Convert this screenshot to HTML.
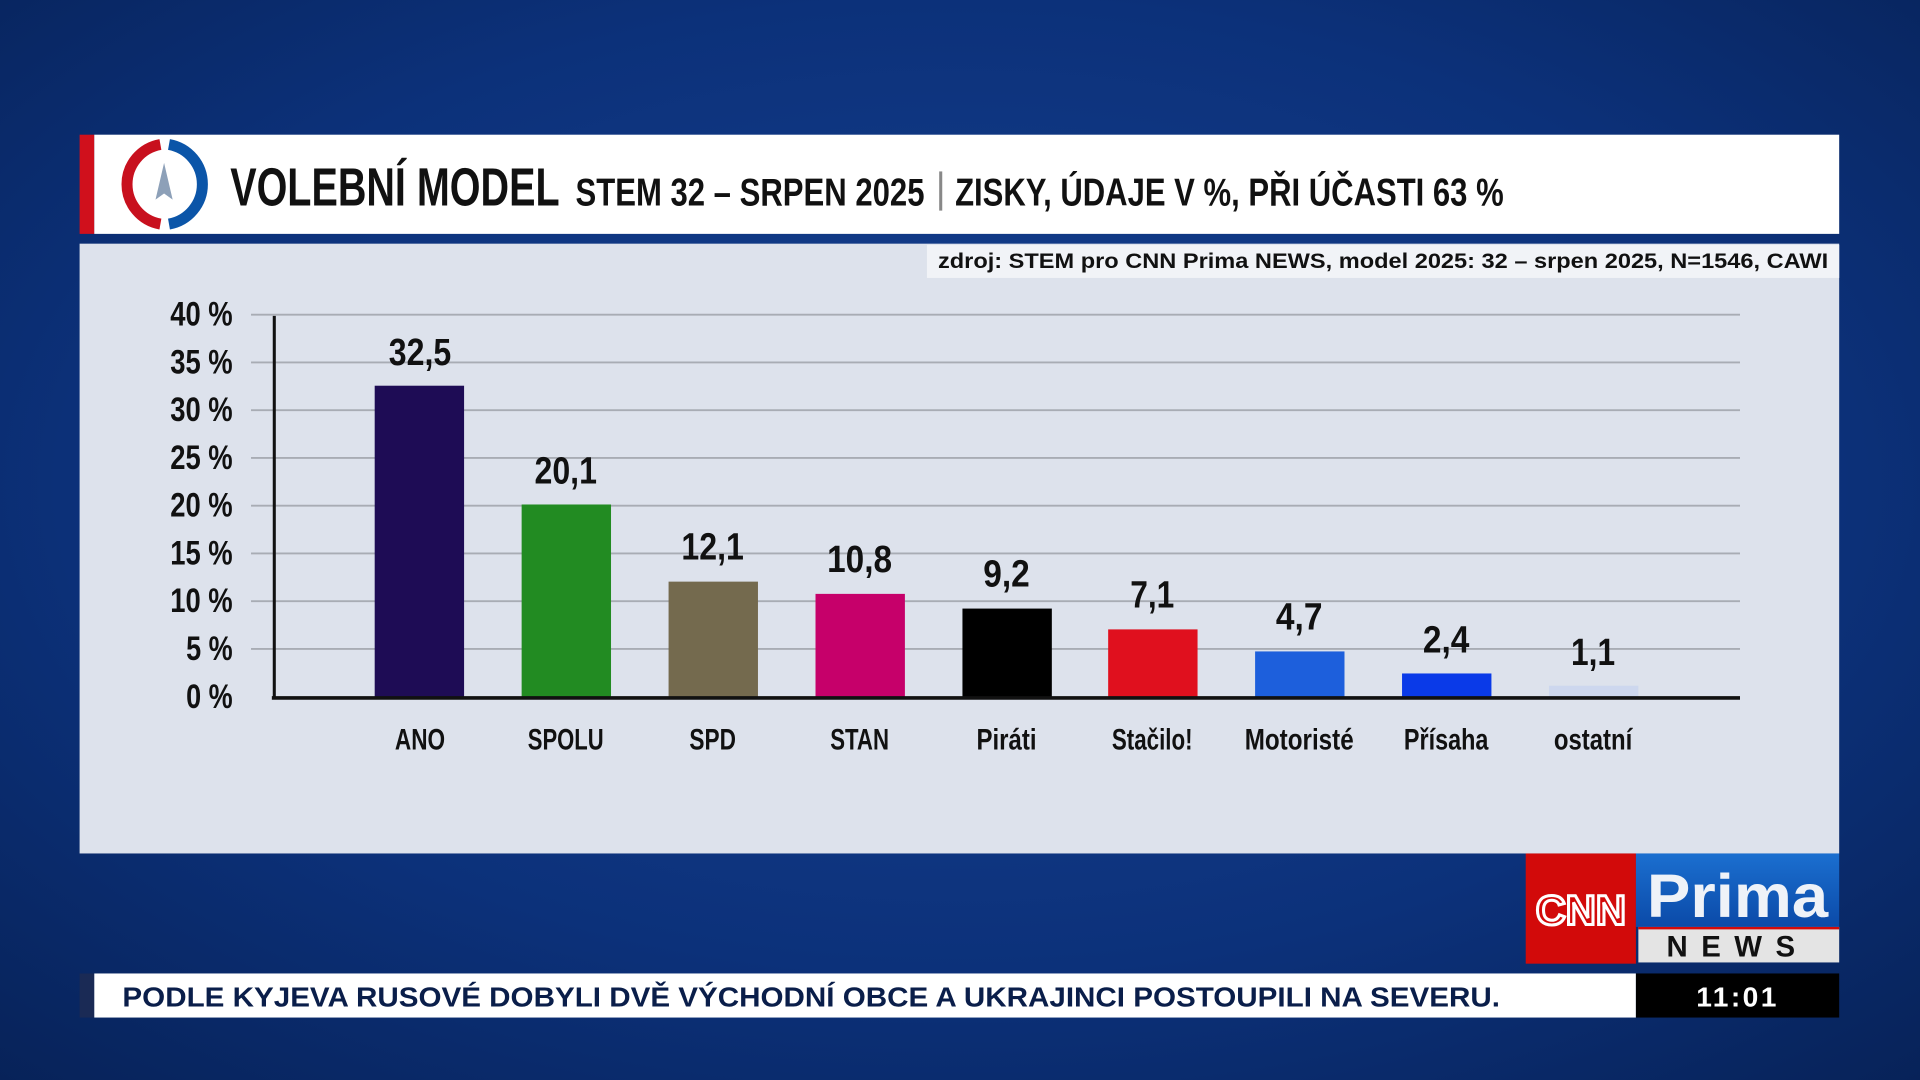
<!DOCTYPE html>
<html><head><meta charset="utf-8"><style>
html,body{margin:0;padding:0;width:1920px;height:1080px;overflow:hidden;background:#0b2c70}
svg{display:block}
text{font-family:"Liberation Sans Narrow","Liberation Sans",sans-serif;font-weight:bold}
</style></head><body>
<svg width="1920" height="1080" viewBox="0 0 1568 882" xmlns="http://www.w3.org/2000/svg">
<defs>
<radialGradient id="bg" cx="50%" cy="45%" r="75%">
<stop offset="0" stop-color="#164292"/><stop offset="0.6" stop-color="#0c317a"/><stop offset="1" stop-color="#072258"/>
</radialGradient>
<linearGradient id="pr" x1="0" y1="0" x2="0" y2="1"><stop offset="0" stop-color="#1b6fd0"/><stop offset="1" stop-color="#0b4aa8"/></linearGradient>
</defs>
<rect width="1568" height="882" fill="url(#bg)"/>
<!-- header -->
<rect x="65" y="110" width="12" height="81" fill="#d0101c"/>
<rect x="77" y="110" width="1425" height="81" fill="#ffffff"/>
<path d="M131 118 A33 33 0 0 0 131 183" fill="none" stroke="#c8101e" stroke-width="9"/>
<path d="M138 118 A33 33 0 0 1 138 183" fill="none" stroke="#0b55a8" stroke-width="9"/>
<path d="M134 133 L141 163 L134 158 L127 163 Z" fill="#8da0b8"/>
<text x="188" y="168" font-size="44" textLength="269" lengthAdjust="spacingAndGlyphs" fill="#111">VOLEBNÍ MODEL</text>
<text x="470" y="168" font-size="32" textLength="285" lengthAdjust="spacingAndGlyphs" fill="#111">STEM 32 – SRPEN 2025</text>
<rect x="767" y="140" width="2.5" height="32" fill="#888"/>
<text x="780" y="168" font-size="32" textLength="448" lengthAdjust="spacingAndGlyphs" fill="#111">ZISKY, ÚDAJE V %, PŘI ÚČASTI 63 %</text>
<!-- panel -->
<rect x="65" y="199" width="1437" height="498" fill="#dde2ec"/>
<rect x="757" y="200" width="745" height="27" fill="#f1f3f7"/>
<text x="1493" y="219" font-size="17" text-anchor="end" fill="#111" font-family="Liberation Sans" textLength="727" lengthAdjust="spacingAndGlyphs">zdroj: STEM pro CNN Prima NEWS, model 2025: 32 – srpen 2025, N=1546, CAWI</text>
<!-- grid -->
<g stroke="#a8acb4" stroke-width="1.5">
<line x1="205" y1="257" x2="1421" y2="257"/><line x1="205" y1="296" x2="1421" y2="296"/>
<line x1="205" y1="335" x2="1421" y2="335"/><line x1="205" y1="374" x2="1421" y2="374"/>
<line x1="205" y1="413" x2="1421" y2="413"/><line x1="205" y1="452" x2="1421" y2="452"/>
<line x1="205" y1="491" x2="1421" y2="491"/><line x1="205" y1="530" x2="1421" y2="530"/>
</g>
<g font-size="28" fill="#111" text-anchor="end" lengthAdjust="spacingAndGlyphs">
<text x="190" y="266" textLength="51" lengthAdjust="spacingAndGlyphs">40 %</text><text x="190" y="305" textLength="51" lengthAdjust="spacingAndGlyphs">35 %</text><text x="190" y="344" textLength="51" lengthAdjust="spacingAndGlyphs">30 %</text>
<text x="190" y="383" textLength="51" lengthAdjust="spacingAndGlyphs">25 %</text><text x="190" y="422" textLength="51" lengthAdjust="spacingAndGlyphs">20 %</text><text x="190" y="461" textLength="51" lengthAdjust="spacingAndGlyphs">15 %</text>
<text x="190" y="500" textLength="51" lengthAdjust="spacingAndGlyphs">10 %</text><text x="190" y="539" textLength="38" lengthAdjust="spacingAndGlyphs">5 %</text><text x="190" y="578" textLength="38" lengthAdjust="spacingAndGlyphs">0 %</text>
</g>
<!-- bars -->
<g>
<rect x="306" y="315" width="73" height="254" fill="#1e0c55"/>
<rect x="426" y="412" width="73" height="157" fill="#228b22"/>
<rect x="546" y="475" width="73" height="94" fill="#746a4e"/>
<rect x="666" y="485" width="73" height="84" fill="#c6006a"/>
<rect x="786" y="497" width="73" height="72" fill="#000"/>
<rect x="905" y="514" width="73" height="55" fill="#e0101e"/>
<rect x="1025" y="532" width="73" height="37" fill="#1d5fdc"/>
<rect x="1145" y="550" width="73" height="19" fill="#0a3ae8"/>
<rect x="1265" y="560" width="73" height="9" fill="#cdd7ee"/>
</g>
<line x1="224" y1="258" x2="224" y2="571" stroke="#111" stroke-width="2.5"/>
<line x1="222" y1="570" x2="1421" y2="570" stroke="#111" stroke-width="3"/>
<g font-size="31" fill="#111" text-anchor="middle">
<text x="343" y="298" textLength="51" lengthAdjust="spacingAndGlyphs">32,5</text><text x="462" y="395" textLength="51" lengthAdjust="spacingAndGlyphs">20,1</text><text x="582" y="457" textLength="51" lengthAdjust="spacingAndGlyphs">12,1</text>
<text x="702" y="467" textLength="53" lengthAdjust="spacingAndGlyphs">10,8</text><text x="822" y="479" textLength="38" lengthAdjust="spacingAndGlyphs">9,2</text><text x="941" y="496" textLength="36" lengthAdjust="spacingAndGlyphs">7,1</text>
<text x="1061" y="514" textLength="38" lengthAdjust="spacingAndGlyphs">4,7</text><text x="1181" y="533" textLength="38" lengthAdjust="spacingAndGlyphs">2,4</text><text x="1301" y="543" textLength="36" lengthAdjust="spacingAndGlyphs">1,1</text>
</g>
<g font-size="24" fill="#111" text-anchor="middle">
<text x="343" y="612" textLength="41" lengthAdjust="spacingAndGlyphs">ANO</text><text x="462" y="612" textLength="62" lengthAdjust="spacingAndGlyphs">SPOLU</text><text x="582" y="612" textLength="38" lengthAdjust="spacingAndGlyphs">SPD</text>
<text x="702" y="612" textLength="48" lengthAdjust="spacingAndGlyphs">STAN</text><text x="822" y="612" textLength="49" lengthAdjust="spacingAndGlyphs">Piráti</text><text x="941" y="612" textLength="66" lengthAdjust="spacingAndGlyphs">Stačilo!</text>
<text x="1061" y="612" textLength="89" lengthAdjust="spacingAndGlyphs">Motoristé</text><text x="1181" y="612" textLength="69" lengthAdjust="spacingAndGlyphs">Přísaha</text><text x="1301" y="612" textLength="64" lengthAdjust="spacingAndGlyphs">ostatní</text>
</g>
<!-- logo -->
<rect x="1246" y="697" width="90" height="90" fill="#d20a0a"/>
<text x="1291" y="755" font-size="34" text-anchor="middle" fill="#d20a0a" stroke="#fff" stroke-width="2.5" font-family="Liberation Sans">CNN</text>
<rect x="1336" y="697" width="166" height="60" fill="url(#pr)"/>
<text x="1419" y="749" font-size="50" text-anchor="middle" fill="#eef2f8" font-family="Liberation Sans" textLength="148" lengthAdjust="spacingAndGlyphs">Prima</text>
<rect x="1338" y="757" width="164" height="29" fill="#e4e4e4"/>
<rect x="1338" y="757" width="164" height="2" fill="#d20a0a"/>
<text x="1419" y="781" font-size="24" text-anchor="middle" fill="#111" font-family="Liberation Sans" letter-spacing="11">NEWS</text>
<!-- ticker -->
<rect x="65" y="795" width="12" height="36" fill="#1a2a55"/>
<rect x="77" y="795" width="1259" height="36" fill="#fff"/>
<text x="100" y="822" font-size="23" fill="#0a1e4a" font-family="Liberation Sans" textLength="1125" lengthAdjust="spacingAndGlyphs">PODLE KYJEVA RUSOVÉ DOBYLI DVĚ VÝCHODNÍ OBCE A UKRAJINCI POSTOUPILI NA SEVERU.</text>
<rect x="1336" y="795" width="166" height="36" fill="#000"/>
<text x="1419" y="822" font-size="23" text-anchor="middle" fill="#fff" font-family="Liberation Sans" letter-spacing="2">11:01</text>
</svg>
</body></html>
